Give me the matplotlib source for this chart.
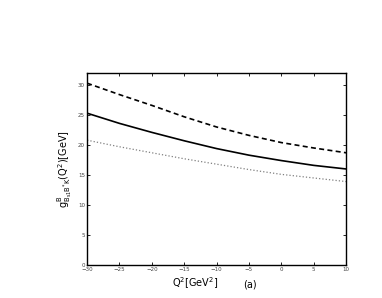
import matplotlib
matplotlib.use('Agg')
import matplotlib.pyplot as plt

q2 = [-30, -25, -20, -15, -10, -5, 0, 5, 10]
g_upper = [30.3, 28.4, 26.6, 24.7, 23.0, 21.6, 20.4, 19.5, 18.7]
g_central = [25.3, 23.6, 22.1, 20.7, 19.4, 18.3, 17.4, 16.6, 16.0]
g_lower = [20.8, 19.7, 18.7, 17.7, 16.8, 15.9, 15.1, 14.5, 13.9]

xticks = [-30, -25, -20, -15, -10, -5, 0, 5, 10]
yticks = [0, 5, 10, 15, 20, 25, 30]

fig = plt.figure(figsize=(3.82, 2.98), dpi=100)
ax = fig.add_axes([0.228, 0.111, 0.678, 0.644])

ax.plot(q2, g_upper, color='black', linestyle='--', linewidth=1.2, dashes=(3, 2))
ax.plot(q2, g_central, color='black', linestyle='-', linewidth=1.2)
ax.plot(q2, g_lower, color='grey', linestyle=':', linewidth=0.9)

ax.set_xlim(-30, 10)
ax.set_ylim(0, 32)
ax.set_xticks(xticks)
ax.set_yticks(yticks)
ax.tick_params(direction='in', top=True, right=True, labelsize=4, length=2.5,
               width=0.6, pad=1.5, labelcolor='#444444')
for s in ax.spines.values():
    s.set_linewidth(1.0)

ax.set_ylabel(r'g$^{\mathrm{B}}_{\mathrm{B_{s1}B^{*}K}}$(Q$^{2}$)[GeV]', fontsize=7, labelpad=3)
fig.text(0.51, 0.035, r'Q$^{2}$[GeV$^{2}$]', fontsize=7, ha='center')
fig.text(0.655, 0.035, '(a)', fontsize=7, ha='center')

fig.savefig('out.png', dpi=100)
